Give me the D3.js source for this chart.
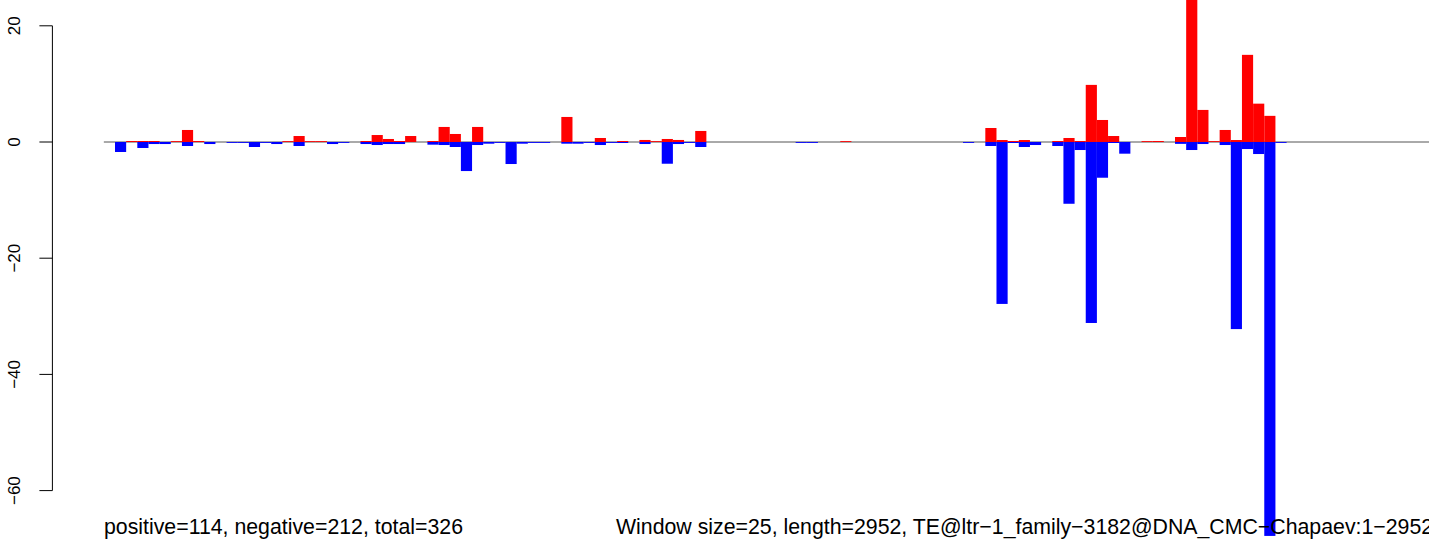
<!DOCTYPE html>
<html>
<head>
<meta charset="utf-8">
<script src="https://cdn.jsdelivr.net/npm/d3@7"></script>
<style>
  html, body { margin: 0; padding: 0; background: #fff; }
  svg { display: block; }
  text { font-family: "Liberation Sans", Arial, Helvetica, sans-serif; fill: #000; }
</style>
</head>
<body>
<svg id="chart" width="1429" height="541"></svg>
<script>
// Window index (0..118), window size 25 over length 2952
const windows = d3.range(119);

// Positive (red, upward) values per window
const positiveValues = [
  0, 0, 0.17, 0.17, 0.17, 0, 0.15, 2.07, 0.17, 0,
  0, 0, 0, 0, 0, 0, 0.15, 1.03, 0.15, 0.15,
  0, 0, 0, 0.17, 1.2, 0.52, 0.17, 1.03, 0, 0.17,
  2.59, 1.38, 0, 2.59, 0, 0, 0, 0, 0, 0,
  0, 4.31, 0, 0, 0.69, 0, 0.17, 0, 0.35, 0.15,
  0.52, 0.35, 0, 1.9, 0, 0, 0, 0, 0, 0,
  0, 0, 0, 0, 0, 0, 0.15, 0, 0, 0,
  0, 0, 0, 0, 0, 0, 0, 0, 0, 2.41,
  0.34, 0.17, 0.34, 0, 0, 0.17, 0.69, 0.17, 9.83, 3.79,
  1.03, 0, 0, 0.15, 0.17, 0, 0.86, 36, 5.52, 0.15,
  2.07, 0.34, 15.0, 6.6, 4.5, 0, 0, 0, 0, 0,
  0, 0, 0, 0, 0, 0, 0, 0, 0
];

// Negative (blue, downward) values per window
const negativeValues = [
  0, -1.72, 0, -1.03, -0.35, -0.35, 0, -0.69, 0, -0.35,
  0, -0.15, -0.15, -0.86, -0.15, -0.35, 0, -0.69, 0, 0,
  -0.35, -0.15, 0, -0.35, -0.52, -0.35, -0.35, 0, 0, -0.46,
  -0.52, -0.86, -5.0, -0.52, -0.29, -0.15, -3.79, -0.29, -0.15, -0.15,
  0, -0.29, -0.29, -0.15, -0.52, -0.15, -0.17, 0, -0.35, 0,
  -3.74, -0.35, -0.15, -0.86, 0, 0, 0, 0, 0, 0,
  0, 0, -0.15, -0.15, 0, 0, 0, 0, 0, 0,
  0, 0, 0, 0, 0, 0, 0, -0.15, 0, -0.69,
  -27.87, -0.17, -0.86, -0.52, 0, -0.69, -10.63, -1.38, -31.15, -6.15,
  -0.17, -2.01, 0, 0, 0, 0, -0.32, -1.38, -0.35, 0,
  -0.52, -32.2, -1.21, -2.07, -67.8, -0.15, 0, 0, 0, 0,
  0, 0, 0, 0, 0, 0, 0, 0, 0
];

const yTicks = [20, 0, -20, -40, -60];
const leftNote = "positive=114, negative=212, total=326";
const rightNote = "Window size=25, length=2952, TE@ltr\u22121_family\u22123182@DNA_CMC\u2212Chapaev:1\u22122952";

const svg = d3.select("#chart");

const x = d3.scaleBand()
  .domain(windows)
  .range([103.84, 103.84 + 11.158 * windows.length])
  .paddingInner(0).paddingOuter(0);

// 0 -> 142, -60 -> 490.6
const y = d3.scaleLinear().domain([-60, 0]).range([490.6, 142]);

// baseline
svg.append("line")
  .attr("x1", 103.84).attr("x2", 1429)
  .attr("y1", y(0)).attr("y2", y(0))
  .attr("stroke", "#555").attr("stroke-width", 1);

// positive bars
svg.append("g").selectAll("rect")
  .data(windows.filter(i => positiveValues[i] > 0))
  .join("rect")
  .attr("x", i => x(i))
  .attr("width", x.bandwidth())
  .attr("y", i => y(positiveValues[i]))
  .attr("height", i => y(0) - y(positiveValues[i]))
  .attr("fill", "#ff0000");

// negative bars
svg.append("g").selectAll("rect")
  .data(windows.filter(i => negativeValues[i] < 0))
  .join("rect")
  .attr("x", i => x(i))
  .attr("width", x.bandwidth())
  .attr("y", y(0))
  .attr("height", i => y(negativeValues[i]) - y(0))
  .attr("fill", "#0000ff");

// y axis (R style)
const axisX = 52.4;
const ax = svg.append("g");
ax.append("line")
  .attr("x1", axisX).attr("x2", axisX)
  .attr("y1", y(20)).attr("y2", y(-60))
  .attr("stroke", "#000").attr("stroke-width", 1);
ax.selectAll("line.tick")
  .data(yTicks).join("line").attr("class", "tick")
  .attr("x1", axisX - 13).attr("x2", axisX)
  .attr("y1", d => y(d)).attr("y2", d => y(d))
  .attr("stroke", "#000").attr("stroke-width", 1);
ax.selectAll("text")
  .data(yTicks).join("text")
  .attr("transform", d => `translate(19.5,${y(d)}) rotate(-90)`)
  .attr("text-anchor", "middle")
  .style("font-size", "17px")
  .text(d => d < 0 ? "\u2212" + Math.abs(d) : String(d));

// bottom notes
svg.append("text")
  .attr("x", 104).attr("y", 534)
  .style("font-size", "21.3px")
  .text(leftNote);
svg.append("text")
  .attr("x", 616).attr("y", 534)
  .style("font-size", "21.3px")
  .text(rightNote);
</script>
</body>
</html>
